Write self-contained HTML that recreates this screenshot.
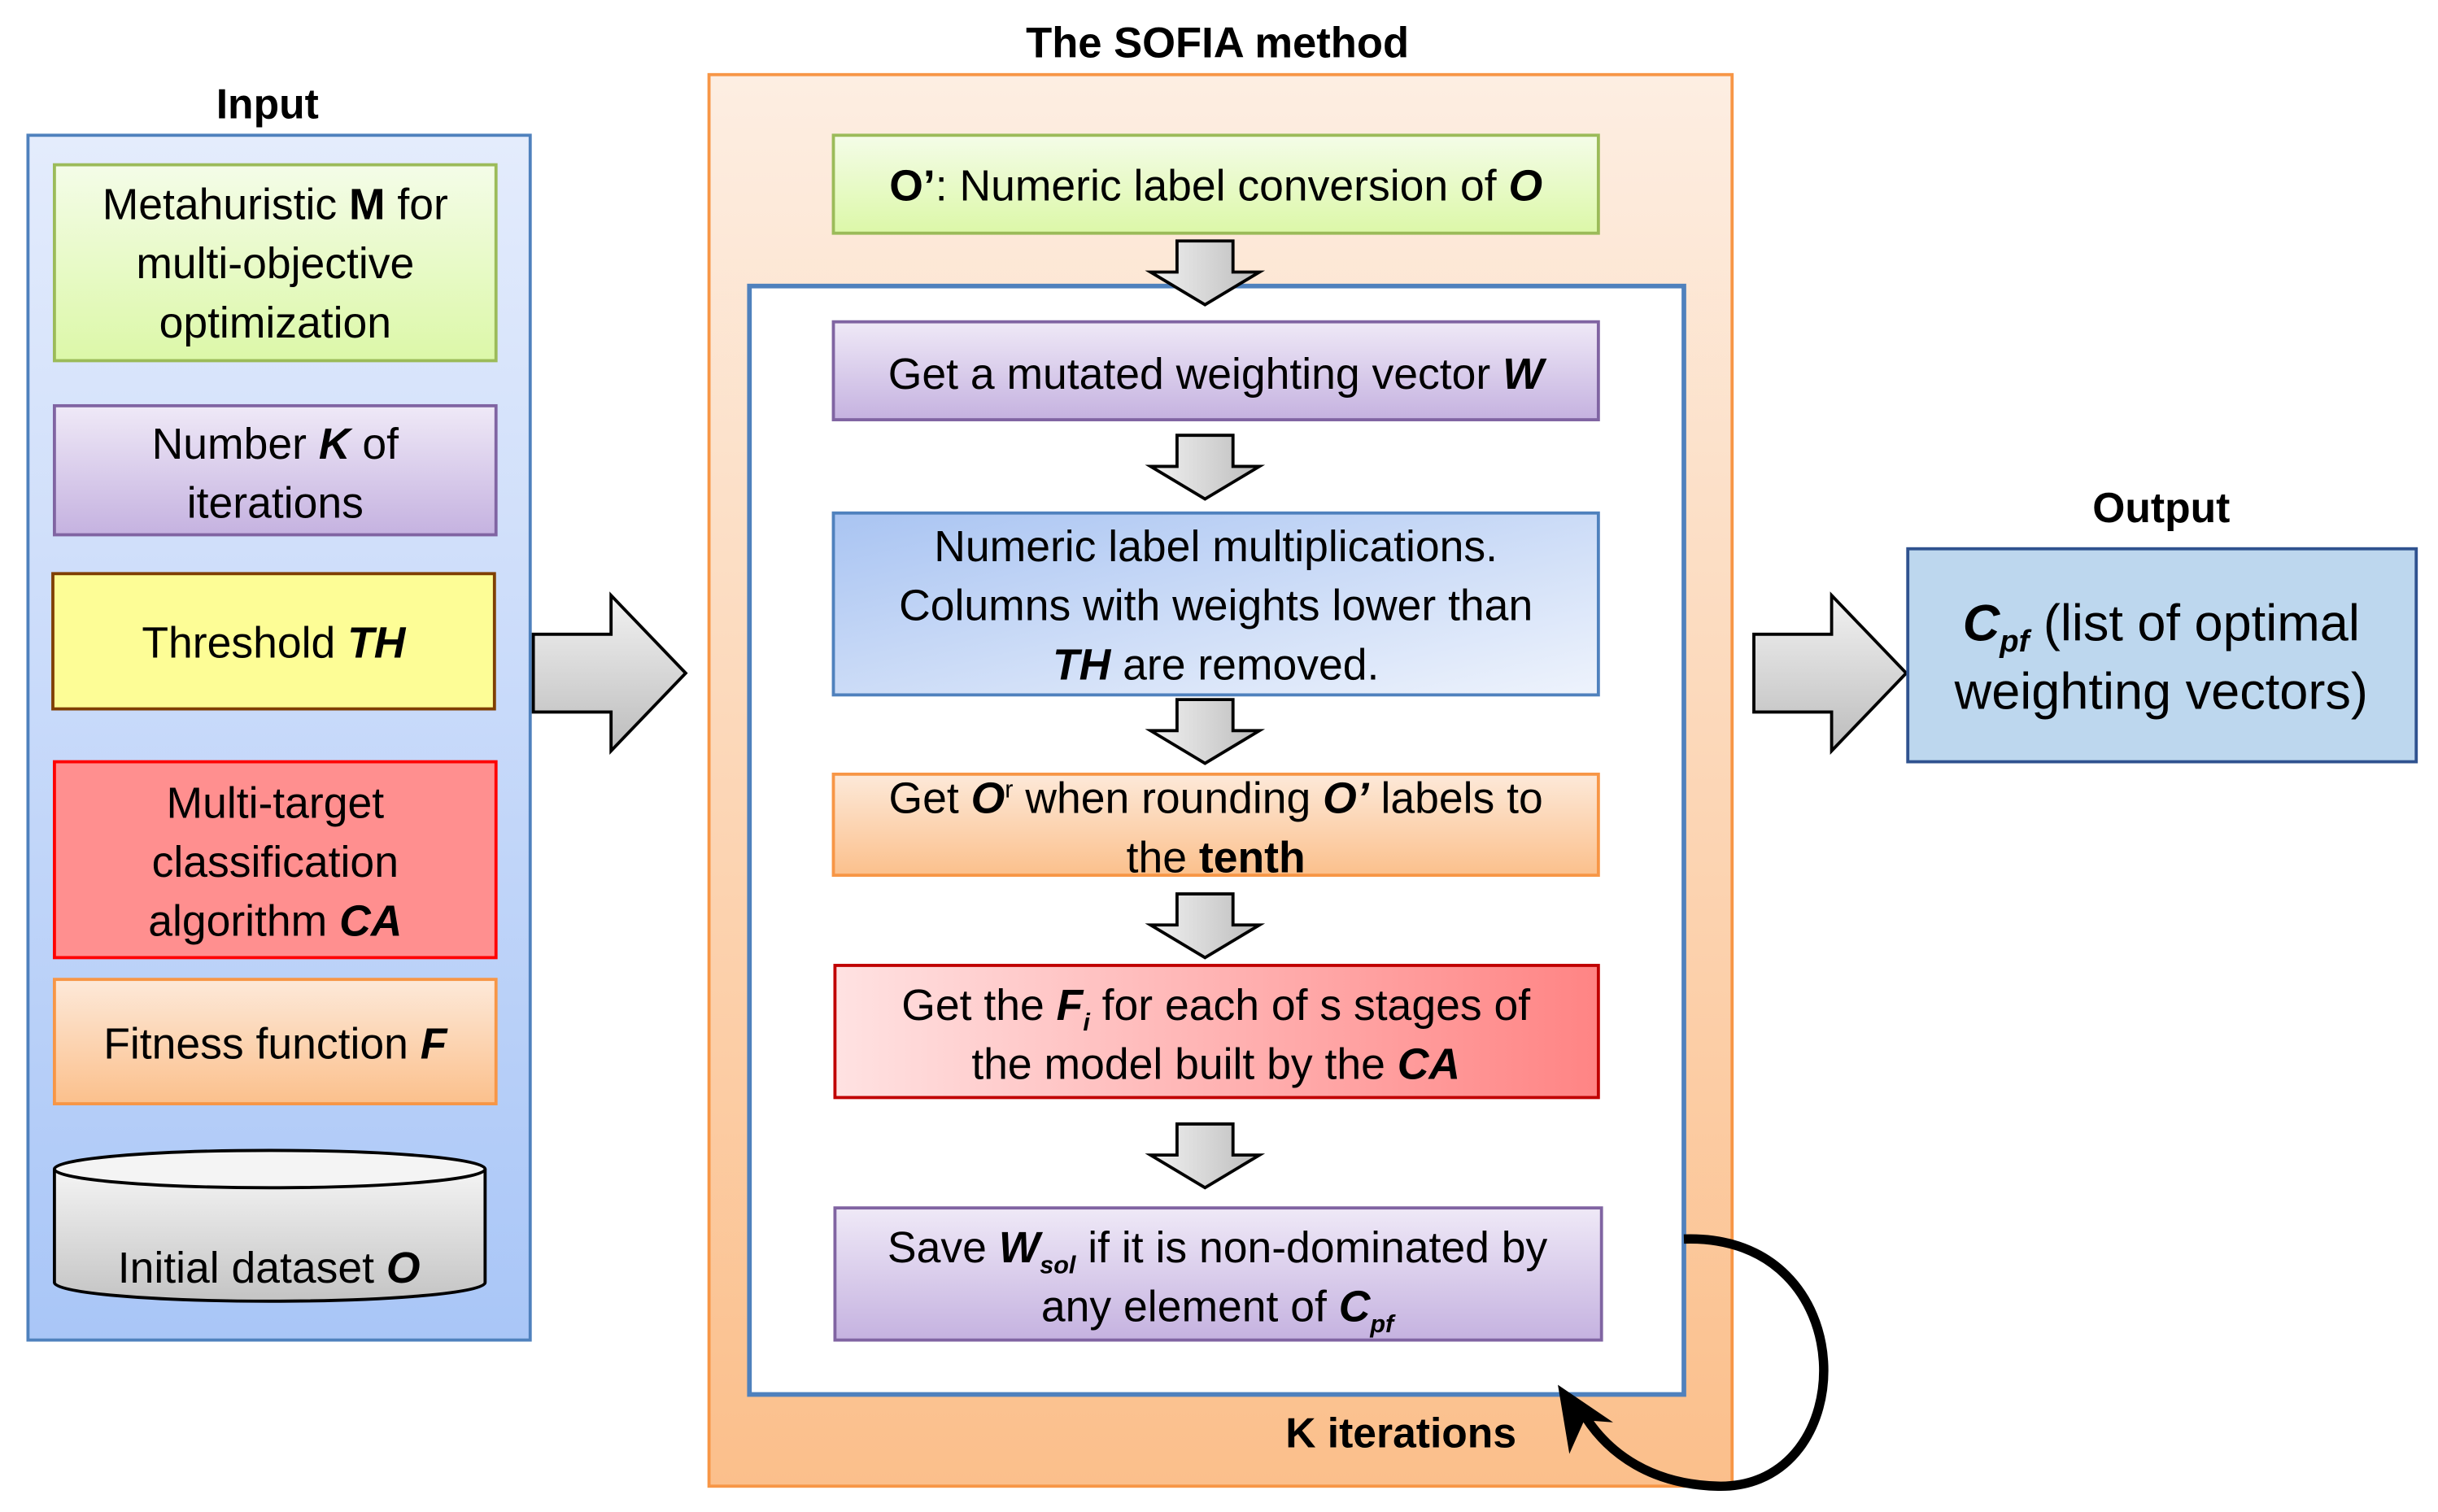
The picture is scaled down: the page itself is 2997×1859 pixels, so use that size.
<!DOCTYPE html>
<html><head><meta charset="utf-8"><style>
html,body{margin:0;padding:0;background:#fff}
svg{display:block}
text{font-family:"Liberation Sans",sans-serif;fill:#000}
</style></head><body>
<svg width="2997" height="1859" viewBox="0 0 1568 972.6" xmlns="http://www.w3.org/2000/svg">
<defs>
<linearGradient id="gIn" x1="0" y1="0" x2="0" y2="1"><stop offset="0" stop-color="#e4ecfc"/><stop offset="1" stop-color="#a9c6f7"/></linearGradient>
<linearGradient id="gGreen" x1="0" y1="0" x2="0" y2="1"><stop offset="0" stop-color="#f4fce8"/><stop offset="1" stop-color="#dcf8a8"/></linearGradient>
<linearGradient id="gPur" x1="0" y1="0" x2="0" y2="1"><stop offset="0" stop-color="#efe9f7"/><stop offset="1" stop-color="#c5b2e0"/></linearGradient>
<linearGradient id="gOr" x1="0" y1="0" x2="0" y2="1"><stop offset="0" stop-color="#fde9d9"/><stop offset="1" stop-color="#fbc08c"/></linearGradient>
<linearGradient id="gSof" x1="0" y1="0" x2="0" y2="1"><stop offset="0" stop-color="#fdeee2"/><stop offset="1" stop-color="#fbbf8b"/></linearGradient>
<linearGradient id="gBlue" x1="0" y1="0" x2="1" y2="1"><stop offset="0" stop-color="#a9c4f2"/><stop offset="1" stop-color="#eef3fc"/></linearGradient>
<linearGradient id="gRed" x1="0" y1="0" x2="1" y2="0"><stop offset="0" stop-color="#ffe2e2"/><stop offset="1" stop-color="#ff8484"/></linearGradient>
<linearGradient id="gArr" x1="0" y1="0" x2="0" y2="1"><stop offset="0" stop-color="#f2f2f2"/><stop offset="1" stop-color="#bcbcbc"/></linearGradient>
<linearGradient id="gArrD" x1="0" y1="0" x2="1" y2="0"><stop offset="0" stop-color="#f2f2f2"/><stop offset="1" stop-color="#bcbcbc"/></linearGradient>
<linearGradient id="gCyl" x1="0" y1="0" x2="0" y2="1"><stop offset="0" stop-color="#f4f4f4"/><stop offset="1" stop-color="#c4c4c4"/></linearGradient>
</defs>

<!-- Input -->
<text x="172" y="76" font-size="27" font-weight="bold" text-anchor="middle">Input</text>
<rect x="18" y="87" width="323" height="775" fill="url(#gIn)" stroke="#4f81bd" stroke-width="2"/>
<rect x="35" y="106" width="284" height="126" fill="url(#gGreen)" stroke="#9bbb59" stroke-width="2"/>
<g font-size="28" text-anchor="middle">
<text x="177" y="141">Metahuristic <tspan font-weight="bold">M</tspan> for</text>
<text x="177" y="179">multi-objective</text>
<text x="177" y="217">optimization</text>
</g>
<rect x="35" y="261" width="284" height="83" fill="url(#gPur)" stroke="#8064a2" stroke-width="2"/>
<g font-size="28" text-anchor="middle">
<text x="177" y="295">Number <tspan font-weight="bold" font-style="italic">K</tspan> of</text>
<text x="177" y="333">iterations</text>
</g>
<rect x="34" y="369" width="284" height="87" fill="#fdfd96" stroke="#7f3f00" stroke-width="2"/>
<text x="176" y="423" font-size="28" text-anchor="middle">Threshold <tspan font-weight="bold" font-style="italic">TH</tspan></text>
<rect x="35" y="490" width="284" height="126" fill="#ff8f8f" stroke="#ff0000" stroke-width="2"/>
<g font-size="28" text-anchor="middle">
<text x="177" y="526">Multi-target</text>
<text x="177" y="564">classification</text>
<text x="177" y="602">algorithm <tspan font-weight="bold" font-style="italic">CA</tspan></text>
</g>
<rect x="35" y="630" width="284" height="80" fill="url(#gOr)" stroke="#f79646" stroke-width="2"/>
<text x="177" y="681" font-size="28" text-anchor="middle">Fitness function <tspan font-weight="bold" font-style="italic">F</tspan></text>
<!-- cylinder -->
<path d="M35,752 L35,825 A138.5,12 0 0 0 312,825 L312,752" fill="url(#gCyl)" stroke="#000" stroke-width="2"/>
<ellipse cx="173.5" cy="752" rx="138.5" ry="12" fill="#f4f4f4" stroke="#000" stroke-width="2"/>
<text x="173" y="825" font-size="28" text-anchor="middle">Initial dataset <tspan font-weight="bold" font-style="italic">O</tspan></text>

<!-- Big arrow left -->
<path d="M343,408 L393,408 L393,383 L441,433 L393,483 L393,458 L343,458 Z" fill="url(#gArr)" stroke="#000" stroke-width="2"/>

<!-- SOFIA -->
<text x="783" y="37" font-size="27.5" font-weight="bold" text-anchor="middle">The SOFIA method</text>
<rect x="456" y="48" width="658" height="908" fill="url(#gSof)" stroke="#f79646" stroke-width="2"/>
<rect x="536" y="87" width="492" height="63" fill="url(#gGreen)" stroke="#9bbb59" stroke-width="2"/>
<text x="782" y="129" font-size="28" text-anchor="middle"><tspan font-weight="bold">O’</tspan>: Numeric label conversion of <tspan font-weight="bold" font-style="italic">O</tspan></text>

<rect x="482" y="184" width="601" height="713" fill="#fff" stroke="#4f81bd" stroke-width="3"/>

<g fill="url(#gArrD)" stroke="#000" stroke-width="2">
<path d="M757,155 L793,155 L793,175 L810,175 L775,196 L740,175 L757,175 Z"/>
<path d="M757,280 L793,280 L793,300 L810,300 L775,321 L740,300 L757,300 Z"/>
<path d="M757,450 L793,450 L793,470 L810,470 L775,491 L740,470 L757,470 Z"/>
<path d="M757,575 L793,575 L793,595 L810,595 L775,616 L740,595 L757,595 Z"/>
<path d="M757,723 L793,723 L793,743 L810,743 L775,764 L740,743 L757,743 Z"/>
</g>

<rect x="536" y="207" width="492" height="63" fill="url(#gPur)" stroke="#8064a2" stroke-width="2"/>
<text x="782" y="250" font-size="28" text-anchor="middle">Get a mutated weighting vector <tspan font-weight="bold" font-style="italic">W</tspan></text>

<rect x="536" y="330" width="492" height="117" fill="url(#gBlue)" stroke="#4f81bd" stroke-width="2"/>
<g font-size="28" text-anchor="middle">
<text x="782" y="361">Numeric label multiplications.</text>
<text x="782" y="399">Columns with weights lower than</text>
<text x="782" y="437"><tspan font-weight="bold" font-style="italic">TH</tspan> are removed.</text>
</g>

<rect x="536" y="498" width="492" height="65" fill="url(#gOr)" stroke="#f79646" stroke-width="2"/>
<g font-size="28" text-anchor="middle">
<text x="782" y="523">Get <tspan font-weight="bold" font-style="italic">O</tspan><tspan font-size="16" dy="-10">r</tspan><tspan dy="10">  when rounding </tspan><tspan font-weight="bold" font-style="italic">O’</tspan> labels to</text>
<text x="782" y="561">the <tspan font-weight="bold">tenth</tspan></text>
</g>

<rect x="537" y="621" width="491" height="85" fill="url(#gRed)" stroke="#c00000" stroke-width="2"/>
<g font-size="28" text-anchor="middle">
<text x="782" y="656">Get the <tspan font-weight="bold" font-style="italic">F</tspan><tspan font-weight="bold" font-style="italic" font-size="16" dy="7">i</tspan><tspan dy="-7"> for each of s stages of</tspan></text>
<text x="782" y="694">the model built by the <tspan font-weight="bold" font-style="italic">CA</tspan></text>
</g>

<rect x="537" y="777" width="493" height="85" fill="url(#gPur)" stroke="#8064a2" stroke-width="2"/>
<g font-size="28" text-anchor="middle">
<text x="783" y="812">Save <tspan font-weight="bold" font-style="italic">W</tspan><tspan font-weight="bold" font-style="italic" font-size="16" dy="7">sol</tspan><tspan dy="-7"> if it is non-dominated by</tspan></text>
<text x="783" y="850">any element of <tspan font-weight="bold" font-style="italic">C</tspan><tspan font-weight="bold" font-style="italic" font-size="16" dy="7">pf</tspan></text>
</g>

<text x="901" y="931" font-size="27" font-weight="bold" text-anchor="middle">K iterations</text>

<!-- loop arrow -->
<path d="M1083,797 C1200,793 1198,958 1105,956 C1062,955 1035,935 1020,912" fill="none" stroke="#000" stroke-width="6"/>
<path d="M1004,894 L1032,913 L1018,912 L1010,930 Z" fill="#000" stroke="#000" stroke-width="3"/>

<!-- Right arrow -->
<path d="M1128,408 L1178,408 L1178,383 L1226,433 L1178,483 L1178,458 L1128,458 Z" fill="url(#gArr)" stroke="#000" stroke-width="2"/>

<!-- Output -->
<text x="1390" y="336" font-size="27" font-weight="bold" text-anchor="middle">Output</text>
<rect x="1227" y="353" width="327" height="137" fill="#bdd7ee" stroke="#2f528f" stroke-width="2"/>
<g font-size="33" text-anchor="middle">
<text x="1390" y="412"><tspan font-weight="bold" font-style="italic">C</tspan><tspan font-weight="bold" font-style="italic" font-size="20" dy="7">pf</tspan><tspan dy="-7"> (list of optimal</tspan></text>
<text x="1390" y="456">weighting vectors)</text>
</g>
</svg>
</body></html>
